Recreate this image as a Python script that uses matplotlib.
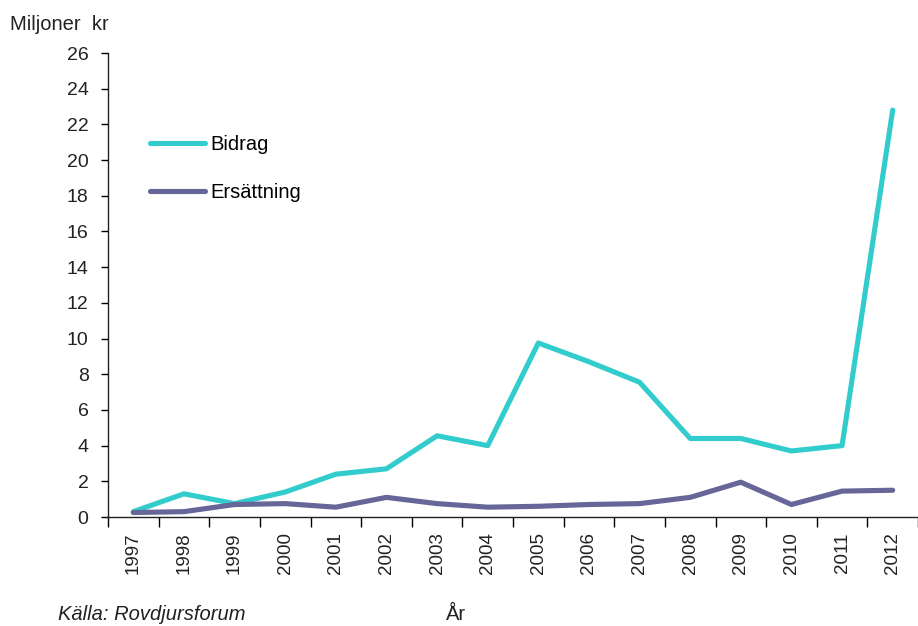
import matplotlib
matplotlib.use("Agg")
import matplotlib.pyplot as plt
import numpy as np

years = ["1997", "1998", "1999", "2000", "2001", "2002", "2003", "2004",
         "2005", "2006", "2007", "2008", "2009", "2010", "2011", "2012"]
bidrag = [0.3, 1.3, 0.75, 1.4, 2.4, 2.7, 4.55, 4.0, 9.75, 8.7, 7.55, 4.4, 4.4, 3.7, 4.0, 22.8]
ersattning = [0.25, 0.3, 0.7, 0.75, 0.55, 1.1, 0.75, 0.55, 0.6, 0.7, 0.75, 1.1, 1.95, 0.7, 1.45, 1.5]
yticks = list(range(0, 27, 2))

plt.rcParams['font.family'] = ['Liberation Sans', 'DejaVu Sans']
TXT = "#222222"

fig = plt.figure(figsize=(9.18, 6.26), dpi=100)
ax = fig.add_axes([108/918, 1 - 517/626, 1 - 108/918, (517 - 53)/626])

x = np.arange(len(years))
ax.plot(x, bidrag, color="#33CCCC", lw=3.7, label="Bidrag", solid_capstyle="round")
ax.plot(x, ersattning, color="#666699", lw=3.7, label="Ersättning", solid_capstyle="round")

ax.set_xlim(-0.5, len(years) - 0.5)
ax.set_ylim(0, 26)
ax.set_yticks(yticks)
ax.set_yticklabels([str(v) for v in yticks], fontsize=14, color=TXT)
ax.set_xticks(x)
ax.set_xticklabels(years, rotation=90, fontsize=13.5, color=TXT)
ax.set_xticks(np.arange(-0.5, len(years)), minor=True)
ax.tick_params(axis="x", which="major", length=0, pad=11)
ax.tick_params(axis="x", which="minor", length=7, width=1, direction="out")
ax.tick_params(axis="y", length=5, width=1, direction="out", pad=9)

for s in ["top", "right"]:
    ax.spines[s].set_visible(False)
for s in ["left", "bottom"]:
    ax.spines[s].set_linewidth(1)
    ax.spines[s].set_color(TXT)

leg = ax.legend(loc="upper left", bbox_to_anchor=(150/918, 1 - 135/626),
                bbox_transform=fig.transFigure, frameon=False, fontsize=14.5,
                handlelength=2.73, handletextpad=0.25, labelspacing=1.43,
                borderpad=0, borderaxespad=0)

fig.text(10/918, 1 - 25/626, "Miljoner  kr", fontsize=14.5, va="center", ha="left", color=TXT)
fig.text(58/918, 1 - 615/626, "Källa: Rovdjursforum", fontsize=14.5, style="italic",
         va="center", ha="left", color=TXT)
fig.text(446/918, 1 - 615/626, "År", fontsize=14.5, va="center", ha="left", color=TXT)

fig.savefig("out.png", dpi=100)
